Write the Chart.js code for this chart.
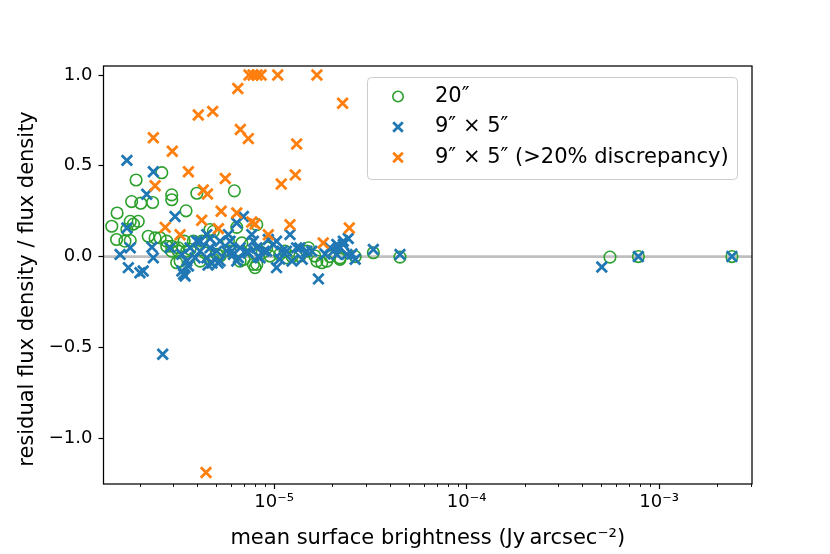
<!DOCTYPE html>
<html lang="en">
<head>
<meta charset="UTF-8">
<title>Residual flux density</title>
<script src="https://cdn.jsdelivr.net/npm/chart.js"></script>
<style>
    body { margin: 0; background: #fff; }
    #wrap { width: 830px; height: 554px; }
</style>
</head>
<body>
<div id="wrap"><canvas id="chart" width="830" height="554"></canvas></div>
<script>
// 20" aperture (green circles)
const x20 = [1.435e-6, 1.52e-6, 1.53e-6, 1.72e-6, 1.79e-6, 1.86e-6, 1.97e-6, 1.79e-6, 1.82e-6, 1.92e-6,
    2.03e-6, 2.34e-6, 2.61e-6, 2.22e-6, 2.41e-6, 2.56e-6, 2.77e-6, 2.94e-6, 3.18e-6, 3.12e-6,
    2.94e-6, 2.94e-6, 3.49e-6, 3.97e-6, 6.22e-6, 6.40e-6, 8.13e-6, 4.65e-6, 4.21e-6, 4.84e-6,
    5.79e-6, 6.80e-6, 7.81e-6, 7.97e-6, 1.14e-5, 1.51e-5, 1.77e-5, 2.20e-5, 1.36e-5, 3.28e-5,
    4.51e-5, 5.56e-4, 7.81e-4, 2.39e-3, 3.66e-6, 4.38e-6, 5.24e-6, 5.91e-6, 8.67e-6, 9.53e-6,
    1.24e-5, 1.63e-5, 1.95e-5, 2.64e-5, 1.68e-6, 6.98e-6, 3.41e-6,
    2.77e-6, 2.94e-6, 3.18e-6, 3.25e-6, 3.52e-6, 3.81e-6, 4.13e-6, 4.84e-6, 5.04e-6, 6.66e-6,
    7.50e-6, 8.13e-6, 9.16e-6, 1.07e-5, 1.16e-5, 1.48e-5, 1.67e-5, 1.88e-5, 2.20e-5];
const y20 = [0.167, 0.094, 0.24, 0.149, 0.194, 0.179, 0.194, 0.088, 0.303, 0.422,
    0.294, 0.298, 0.462, 0.112, 0.103, 0.103, 0.085, 0.057, 0.048, -0.034,
    0.34, 0.313, 0.252, 0.349, 0.362, 0.161, 0.176, 0.149, 0.085, -0.015,
    0.085, 0.075, -0.043, -0.061, 0.03, 0.048, -0.034, -0.015, 0.003, 0.021,
    -0.003, -0.003, 0, 0, 0.04, 0.02, 0.003, 0.03, 0.02, 0.003,
    0, 0.003, 0, 0, 0.085, -0.015, 0.085,
    0.057, 0.03, 0.03, -0.025, 0.03, 0.085, -0.025, 0.139, 0.012, -0.025,
    0.067, -0.043, 0.048, 0.012, -0.007, 0.03, -0.025, -0.025, -0.007];

// 9" x 5" aperture (blue crosses)
const x95 = [1.72e-6, 2.36e-6, 2.18e-6, 3.06e-6, 1.72e-6, 1.585e-6, 1.79e-6, 1.75e-6, 2.01e-6, 2.09e-6,
    2.36e-6, 2.88e-6, 3.32e-6, 3.45e-6, 3.52e-6, 3.97e-6, 4.47e-6, 4.65e-6, 4.13e-6, 5.24e-6,
    5.68e-6, 6.15e-6, 6.40e-6, 6.66e-6, 6.93e-6, 7.81e-6, 6.40e-6, 9.92e-6, 1.03e-5, 1.16e-5,
    1.21e-5, 1.36e-5, 1.70e-5, 2.03e-5, 2.20e-5, 2.39e-5, 2.12e-5, 2.29e-5, 2.43e-5, 2.64e-5,
    3.28e-5, 4.51e-5, 5.04e-4, 7.81e-4, 2.39e-3, 2.64e-6, 2.32e-6, 3.39e-6, 3.59e-6, 3.32e-6,
    8.87e-6, 8.26e-6, 7.33e-6, 4.76e-6, 5.12e-6, 1.40e-5, 1.57e-5, 1.84e-5, 2.54e-5, 4.54e-6,
    1.07e-5,
    4.13e-6, 4.65e-6, 5.04e-6, 5.91e-6, 6.03e-6, 6.53e-6, 7.22e-6, 8.13e-6, 8.46e-6, 9.16e-6,
    1.03e-5, 1.10e-5, 1.24e-5, 1.31e-5, 1.48e-5, 1.95e-5, 2.12e-5, 2.29e-5, 3.66e-6, 3.89e-6,
    4.47e-6, 5.24e-6, 5.79e-6, 7.66e-6, 9.34e-6];
const y95 = [0.53, 0.467, 0.343, 0.221, 0.157, 0.012, 0.048, -0.061, -0.089, -0.079,
    -0.007, 0.048, -0.079, -0.107, -0.025, 0.085, 0.121, 0.048, 0.03, 0.085,
    0.03, 0.012, -0.025, 0.048, 0.221, 0.085, 0.185, 0.067, -0.061, 0.03,
    0.121, 0.048, -0.123, 0.03, 0.048, 0.012, 0.067, 0.085, 0.10, -0.015,
    0.039, 0.012, -0.057, 0, 0, -0.538, 0.052, -0.097, -0.052, 0.012,
    0.03, 0, 0.02, -0.035, -0.035, -0.015, 0.03, 0.014, 0.014, -0.047,
    -0.014,
    0.085, 0.10, 0.03, 0.085, 0.03, -0.007, 0.03, 0.048, -0.007, 0.03,
    0.085, 0.03, -0.025, 0.048, 0.03, 0.048, 0.012, 0.067, 0.048, -0.007,
    -0.007, -0.025, 0.121, 0.121, 0.094];

// 9" x 5" with >20% discrepancy (orange crosses)
const xDisc = [7.41e-6, 7.78e-6, 8.16e-6, 8.56e-6, 1.045e-5, 1.67e-5, 6.48e-6, 2.27e-5, 4.04e-6, 4.80e-6,
    6.68e-6, 7.35e-6, 1.31e-5, 2.36e-6, 2.96e-6, 3.59e-6, 5.58e-6, 1.29e-5, 1.09e-5, 2.41e-6,
    4.29e-6, 4.51e-6, 5.31e-6, 6.40e-6, 4.21e-6, 5.14e-6, 7.66e-6, 7.97e-6, 9.34e-6, 1.21e-5,
    2.72e-6, 3.25e-6, 1.80e-5, 2.46e-5, 4.43e-6];
const yDisc = [1.0, 1.0, 1.0, 1.0, 1.0, 1.0, 0.926, 0.845, 0.78, 0.80,
    0.70, 0.65, 0.62, 0.655, 0.58, 0.467, 0.43, 0.45, 0.40, 0.39,
    0.367, 0.345, 0.25, 0.24, 0.20, 0.154, 0.19, 0.18, 0.12, 0.176,
    0.161, 0.12, 0.075, 0.157, -1.19];

const xMajor = [1e-5, 1e-4, 1e-3];
const xMajorLabels = ['10\u207B\u2075', '10\u207B\u2074', '10\u207B\u00B3'];
const yMajor = [-1.0, -0.5, 0.0, 0.5, 1.0];
const xRange = [1.3e-6, 3.04e-3];
const yRange = [-1.253, 1.05];

const GREEN = '#2ca02c', BLUE = '#1f77b4', ORANGE = '#ff7f0e';
const FONT = '"DejaVu Sans", sans-serif';

const pts = (xs, ys) => xs.map((x, i) => ({ x: x, y: ys[i] }));

// light grey line at zero, drawn under the markers
const zeroLine = {
    id: 'zeroLine',
    beforeDatasetsDraw(chart) {
        const { ctx, chartArea, scales } = chart;
        const y = scales.y.getPixelForValue(0);
        ctx.save();
        ctx.strokeStyle = '#bfbfbf';
        ctx.lineWidth = 2.8;
        ctx.beginPath();
        ctx.moveTo(chartArea.left, y);
        ctx.lineTo(chartArea.right, y);
        ctx.stroke();
        ctx.restore();
    }
};

// frame, minor log ticks, y title and the legend box
const frame = {
    id: 'frame',
    afterDraw(chart) {
        const { ctx, chartArea: a, scales } = chart;
        ctx.save();
        ctx.strokeStyle = '#000';
        ctx.lineWidth = 0.9;
        for (let e = -6; e <= -3; e++) {
            for (let m = 2; m <= 9; m++) {
                const v = m * Math.pow(10, e);
                if (v < xRange[0] || v > xRange[1]) continue;
                const px = Math.round(scales.x.getPixelForValue(v)) + 0.5;
                ctx.beginPath();
                ctx.moveTo(px, a.bottom);
                ctx.lineTo(px, a.bottom + 3);
                ctx.stroke();
            }
        }
        ctx.lineWidth = 1.25;
        ctx.strokeRect(a.left, a.top, a.right - a.left, a.bottom - a.top);

        // y axis title
        ctx.save();
        ctx.translate(28, (a.top + a.bottom) / 2 + 14);
        ctx.rotate(-Math.PI / 2);
        ctx.fillStyle = '#000';
        ctx.font = '21px ' + FONT;
        ctx.textAlign = 'center';
        ctx.textBaseline = 'middle';
        ctx.fillText('residual flux density / flux density', 0, 0);
        ctx.restore();

        // legend
        const bx = a.right - 15 - 370, by = a.top + 11, bw = 370, bh = 102;
        ctx.fillStyle = 'rgba(255,255,255,0.8)';
        ctx.strokeStyle = '#cccccc';
        ctx.lineWidth = 1;
        ctx.beginPath();
        ctx.roundRect(bx + 0.5, by + 0.5, bw, bh, 4);
        ctx.fill();
        ctx.stroke();

        const rows = [
            { label: '20\u2033', color: GREEN, style: 'circle' },
            { label: '9\u2033 \u00D7 5\u2033', color: BLUE, style: 'cross' },
            { label: '9\u2033 \u00D7 5\u2033 (>20% discrepancy)', color: ORANGE, style: 'cross' }
        ];
        ctx.font = '21px ' + FONT;
        ctx.textBaseline = 'middle';
        rows.forEach((r, i) => {
            const cy = by + 19.5 + i * 30.5;
            const cx = bx + 31;
            ctx.strokeStyle = r.color;
            if (r.style === 'circle') {
                ctx.lineWidth = 1.6;
                ctx.beginPath();
                ctx.arc(cx, cy, 5.2, 0, Math.PI * 2);
                ctx.stroke();
            } else {
                ctx.lineWidth = 2.8;
                ctx.beginPath();
                ctx.moveTo(cx - 4.8, cy - 4.8); ctx.lineTo(cx + 4.8, cy + 4.8);
                ctx.moveTo(cx - 4.8, cy + 4.8); ctx.lineTo(cx + 4.8, cy - 4.8);
                ctx.stroke();
            }
            ctx.fillStyle = '#000';
            ctx.fillText(r.label, bx + 68, cy);
        });
        ctx.restore();
    }
};

new Chart(document.getElementById('chart'), {
    type: 'scatter',
    data: {
        datasets: [
            {
                label: '20\u2033',
                data: pts(x20, y20),
                pointStyle: 'circle',
                pointRadius: 5.8,
                pointHoverRadius: 5.8,
                borderColor: GREEN,
                backgroundColor: 'rgba(0,0,0,0)',
                borderWidth: 1.6,
                order: 3
            },
            {
                label: '9\u2033 \u00D7 5\u2033',
                data: pts(x95, y95),
                pointStyle: 'crossRot',
                pointRadius: 7.4,
                pointHoverRadius: 7.4,
                borderColor: BLUE,
                backgroundColor: BLUE,
                borderWidth: 2.8,
                order: 2
            },
            {
                label: '9\u2033 \u00D7 5\u2033 (>20% discrepancy)',
                data: pts(xDisc, yDisc),
                pointStyle: 'crossRot',
                pointRadius: 7.4,
                pointHoverRadius: 7.4,
                borderColor: ORANGE,
                backgroundColor: ORANGE,
                borderWidth: 2.8,
                order: 1
            }
        ]
    },
    options: {
        responsive: false,
        animation: false,
        layout: { padding: { left: 0, right: 78, top: 66, bottom: 0 } },
        plugins: {
            legend: { display: false },
            tooltip: { enabled: false }
        },
        scales: {
            x: {
                type: 'logarithmic',
                min: xRange[0],
                max: xRange[1],
                afterBuildTicks: s => { s.ticks = xMajor.map(v => ({ value: v })); },
                afterFit: s => { s.height = 70; },
                ticks: {
                    color: '#000',
                    font: { family: FONT, size: 18 },
                    padding: 3,
                    maxRotation: 0,
                    autoSkip: false,
                    callback: (v) => xMajorLabels[xMajor.indexOf(v)] || ''
                },
                grid: { drawOnChartArea: false, drawTicks: true, tickLength: 5, tickColor: '#000', tickWidth: 1.2 },
                border: { display: false },
                title: {
                    display: true,
                    text: 'mean surface brightness (Jy\u2009arcsec\u207B\u00B2)',
                    color: '#000',
                    font: { family: FONT, size: 21 },
                    padding: { top: 0, bottom: 3 }
                }
            },
            y: {
                min: yRange[0],
                max: yRange[1],
                afterBuildTicks: s => { s.ticks = yMajor.map(v => ({ value: v })); },
                afterFit: s => { s.width = 103.5; },
                ticks: {
                    color: '#000',
                    font: { family: FONT, size: 18 },
                    padding: 6,
                    callback: v => v.toFixed(1).replace('-', '\u2212')
                },
                grid: { drawOnChartArea: false, drawTicks: true, tickLength: 5, tickColor: '#000', tickWidth: 1.2 },
                border: { display: false },
                title: { display: false }
            }
        }
    },
    plugins: [zeroLine, frame]
});
</script>
</body>
</html>
